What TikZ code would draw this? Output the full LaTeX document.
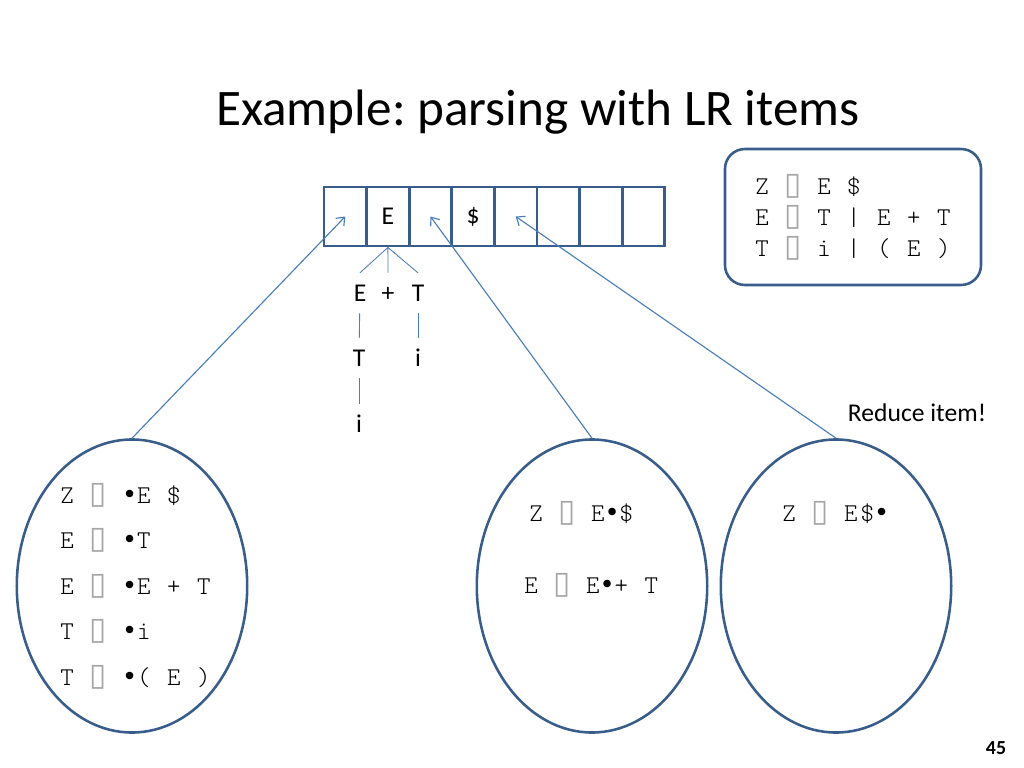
\documentclass[tikz,border=0pt]{standalone}
\usepackage{fontspec}
\setmainfont{Carlito}
\newfontfamily\itemfont{lmmonolt10-regular.otf}[LetterSpace=12]
\newfontfamily\glyphfont{DejaVu Sans}
\usetikzlibrary{shapes.geometric,arrows.meta}
\definecolor{slideblue}{RGB}{56,93,138}
\definecolor{linkblue}{RGB}{74,126,187}
\newcommand{\nogl}{\makebox[0.6em]{\textcolor{gray!70}{\glyphfont\fontsize{22}{22}\selectfont ▯}}}
\newcommand{\dotm}{{\glyphfont •}}
\tikzset{
  cell/.style={draw=slideblue, line width=2pt, minimum width=30pt,
    minimum height=41.5pt, inner sep=0pt, font=\fontsize{18}{22}\selectfont},
  itemset/.style={ellipse, draw=slideblue, line width=1.8pt,
    minimum width=162pt, minimum height=206pt, inner sep=0pt},
  items/.style={anchor=west, inner sep=0pt, align=left,
    font=\itemfont\fontsize{18}{32}\selectfont},
  treenode/.style={inner sep=8pt, text height=12pt, text depth=0pt,
    font=\fontsize{18}{22}\selectfont},
  treeline/.style={draw=linkblue, line width=0.6pt},
  pointer/.style={draw=linkblue, line width=0.8pt,
    -{Straight Barb[length=5pt,width=8pt]}},
}
\begin{document}
\begin{tikzpicture}[x=0.703pt, y=-0.703pt]
  \useasboundingbox (0,0) rectangle (1024,768);
  \node (title) at (538,112) {\fontsize{36}{44}\selectfont Example:\ parsing with LR items};
  % input tape
  \foreach \i/\t in {1/,2/E,3/,4/\$,5/,6/,7/,8/}
    \node[cell] (c\i) at ({324+42.6*(\i-0.5)},216.5) {\t};
  % grammar
  \node[draw=slideblue, line width=1.8pt, rounded corners=14pt,
    minimum width=180pt, minimum height=95.6pt, align=left,
    font=\itemfont\fontsize{18}{21.8}\selectfont] (gram) at (853,217)
    {Z \nogl{} E \$\\E \nogl{} T | E + T\\T \nogl{} i | ( E )};
  % parse tree
  \node[treenode] (tE) at (360,293) {E};
  \node[treenode] (tplus) at (388,293) {+};
  \node[treenode] (tT) at (418,293) {T};
  \node[treenode] (tET) at (359,358) {T};
  \node[treenode] (tTi) at (418,358) {i};
  \node[treenode] (tETi) at (359,424) {i};
  \foreach \n in {tE,tplus,tT}
    \draw[treeline] (c2.south) -- (\n.north);
  \draw[treeline] (tE) -- (tET);
  \draw[treeline] (tT) -- (tTi);
  \draw[treeline] (tET) -- (tETi);
  % item sets
  \node[itemset] (s0) at (132,586) {};
  \node[itemset] (s1) at (592,586) {};
  \node[itemset] (s2) at (836,586) {};
  \node[items] (s0items) at (60,586)
    {Z \nogl{} \dotm{}E \$\\E \nogl{} \dotm{}T\\E \nogl{} \dotm{}E + T\\T \nogl{} \dotm{}i\\T \nogl{} \dotm{}( E )};
  \node[items] (s1a) at (529,513) {Z \nogl{} E\dotm{}\$};
  \node[items] (s1b) at (524,585) {E \nogl{} E\dotm{}+ T};
  \node[items] (s2a) at (782,513) {Z \nogl{} E\$\dotm{}};
  \node (reduce) at (917,413) {\fontsize{18}{22}\selectfont Reduce item!};
  \node (page) at (996,748) {\fontsize{14}{16}\selectfont\bfseries 45};
  % pointers into the tape
  \draw[pointer] (s0.north) -- (c1.center);
  \draw[pointer] (s1.north) -- (c3.center);
  \draw[pointer] (s2.north) -- (c5.center);
\end{tikzpicture}
\end{document}
